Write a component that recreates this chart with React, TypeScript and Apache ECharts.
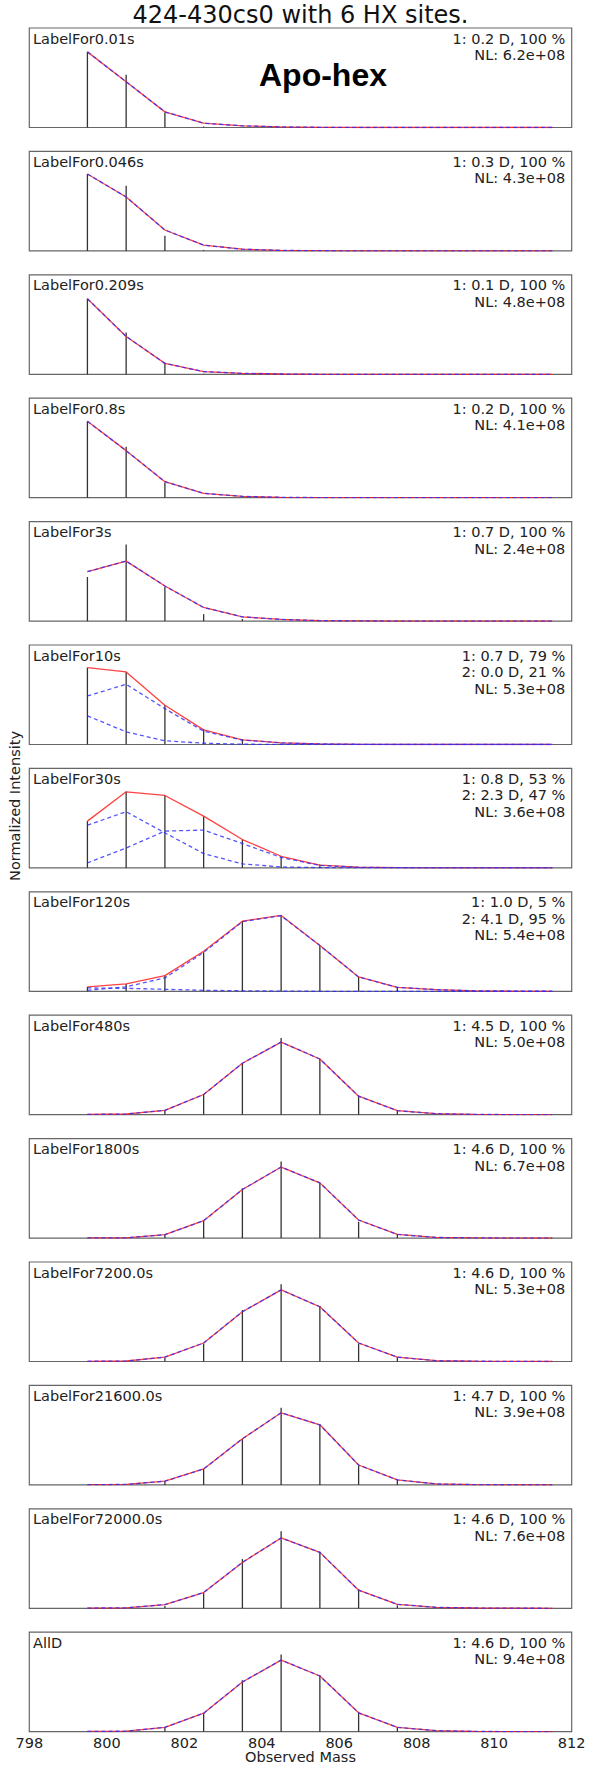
import React, { useEffect, useRef } from "react";
import * as echarts from "echarts";

// ---- data ----
const masses = [799.5, 800.5, 801.5, 802.5, 803.5, 804.5, 805.5, 806.5, 807.5, 808.5, 809.5, 810.5, 811.5];
const xTicks = [798, 800, 802, 804, 806, 808, 810, 812];

const panelLabels = [
  "LabelFor0.01s", "LabelFor0.046s", "LabelFor0.209s", "LabelFor0.8s", "LabelFor3s",
  "LabelFor10s", "LabelFor30s", "LabelFor120s", "LabelFor480s", "LabelFor1800s",
  "LabelFor7200.0s", "LabelFor21600.0s", "LabelFor72000.0s", "AllD",
];

const fitTexts = [
  ["1: 0.2 D, 100 %", "NL: 6.2e+08"],
  ["1: 0.3 D, 100 %", "NL: 4.3e+08"],
  ["1: 0.1 D, 100 %", "NL: 4.8e+08"],
  ["1: 0.2 D, 100 %", "NL: 4.1e+08"],
  ["1: 0.7 D, 100 %", "NL: 2.4e+08"],
  ["1: 0.7 D, 79 %", "2: 0.0 D, 21 %", "NL: 5.3e+08"],
  ["1: 0.8 D, 53 %", "2: 2.3 D, 47 %", "NL: 3.6e+08"],
  ["1: 1.0 D, 5 %", "2: 4.1 D, 95 %", "NL: 5.4e+08"],
  ["1: 4.5 D, 100 %", "NL: 5.0e+08"],
  ["1: 4.6 D, 100 %", "NL: 6.7e+08"],
  ["1: 4.6 D, 100 %", "NL: 5.3e+08"],
  ["1: 4.7 D, 100 %", "NL: 3.9e+08"],
  ["1: 4.6 D, 100 %", "NL: 7.6e+08"],
  ["1: 4.6 D, 100 %", "NL: 9.4e+08"],
];

// observed stick intensities (normalized to panel)
const observed = [
  [0.76, 0.53, 0.15, 0.01, 0, 0, 0, 0, 0, 0, 0, 0, 0],
  [0.773, 0.654, 0.153, 0.01, 0, 0, 0, 0, 0, 0, 0, 0, 0],
  [0.76, 0.42, 0.117, 0.005, 0, 0, 0, 0, 0, 0, 0, 0, 0],
  [0.768, 0.513, 0.154, 0.005, 0, 0, 0, 0, 0, 0, 0, 0, 0],
  [0.443, 0.77, 0.343, 0.07, 0.02, 0, 0, 0, 0, 0, 0, 0, 0],
  [0.773, 0.729, 0.395, 0.154, 0.054, 0.01, 0, 0, 0, 0, 0, 0, 0],
  [0.47, 0.765, 0.728, 0.52, 0.285, 0.117, 0.034, 0.005, 0, 0, 0, 0, 0],
  [0.044, 0.074, 0.158, 0.393, 0.705, 0.765, 0.46, 0.144, 0.04, 0.005, 0, 0, 0],
  [0, 0, 0.044, 0.203, 0.517, 0.77, 0.56, 0.186, 0.04, 0.005, 0, 0, 0],
  [0, 0, 0.03, 0.175, 0.5, 0.77, 0.555, 0.165, 0.04, 0, 0, 0, 0],
  [0, 0, 0.037, 0.18, 0.517, 0.777, 0.557, 0.18, 0.044, 0, 0, 0, 0],
  [0, 0, 0.037, 0.16, 0.463, 0.775, 0.607, 0.195, 0.05, 0, 0, 0, 0],
  [0, 0, 0.024, 0.158, 0.495, 0.774, 0.569, 0.192, 0.03, 0, 0, 0, 0],
  [0, 0, 0.044, 0.186, 0.517, 0.777, 0.568, 0.196, 0.044, 0, 0, 0, 0],
];

// total fitted envelope (red)
const fitTotal = [
  [0.76, 0.46, 0.157, 0.043, 0.017, 0.006, 0.002, 0, 0, 0, 0, 0, 0],
  [0.773, 0.542, 0.21, 0.058, 0.017, 0.005, 0.002, 0, 0, 0, 0, 0, 0],
  [0.76, 0.38, 0.11, 0.027, 0.01, 0.003, 0, 0, 0, 0, 0, 0, 0],
  [0.768, 0.473, 0.161, 0.044, 0.013, 0.004, 0.001, 0, 0, 0, 0, 0, 0],
  [0.497, 0.603, 0.353, 0.137, 0.043, 0.017, 0.005, 0.002, 0, 0, 0, 0, 0],
  [0.773, 0.729, 0.395, 0.147, 0.047, 0.017, 0.007, 0.002, 0, 0, 0, 0, 0],
  [0.47, 0.765, 0.728, 0.52, 0.285, 0.117, 0.027, 0.007, 0.002, 0, 0, 0, 0],
  [0.044, 0.074, 0.158, 0.403, 0.705, 0.762, 0.46, 0.144, 0.04, 0.017, 0.005, 0.002, 0],
  [0.003, 0.007, 0.044, 0.203, 0.517, 0.73, 0.56, 0.186, 0.04, 0.01, 0.003, 0.001, 0],
  [0.002, 0.003, 0.034, 0.175, 0.488, 0.714, 0.555, 0.182, 0.037, 0.007, 0.002, 0, 0],
  [0.002, 0.005, 0.044, 0.186, 0.5, 0.72, 0.55, 0.186, 0.044, 0.008, 0.003, 0.001, 0],
  [0.002, 0.005, 0.037, 0.16, 0.463, 0.725, 0.604, 0.2, 0.05, 0.01, 0.003, 0.001, 0],
  [0.002, 0.005, 0.037, 0.158, 0.461, 0.707, 0.562, 0.182, 0.04, 0.01, 0.003, 0.001, 0],
  [0.003, 0.005, 0.044, 0.186, 0.5, 0.72, 0.56, 0.19, 0.044, 0.01, 0.003, 0.001, 0],
];

// separate population components (blue dashed) for the two-population fits
const componentsP6 = [
  [0.488, 0.605, 0.36, 0.135, 0.044, 0.016, 0.006, 0.002, 0, 0, 0, 0, 0],
  [0.288, 0.127, 0.037, 0.013, 0.003, 0.001, 0, 0, 0, 0, 0, 0, 0],
];
const componentsP7 = [
  [0.43, 0.564, 0.352, 0.144, 0.04, 0.01, 0.002, 0, 0, 0, 0, 0, 0],
  [0.05, 0.2, 0.37, 0.38, 0.245, 0.105, 0.025, 0.006, 0.002, 0, 0, 0, 0],
];
const componentsP8 = [
  [0.034, 0.03, 0.02, 0.01, 0.005, 0.002, 0, 0, 0, 0, 0, 0, 0],
  [0.01, 0.045, 0.135, 0.39, 0.7, 0.76, 0.46, 0.144, 0.04, 0.017, 0.005, 0.002, 0],
];

export default function App() {
  const ref = useRef<HTMLDivElement>(null);

  useEffect(() => {
    if (!ref.current) return;
    const chart = echarts.init(ref.current, undefined, { renderer: "svg" });

    const FONT = "DejaVu Sans";
    const FS = 14.5;
    const left = 29.3;
    const plotW = 542.4;
    const top0 = 28;
    const step = 123.4;
    const plotH = 99.5;
    const n = panelLabels.length;
    const cx = left + plotW / 2;

    const grids: any[] = [];
    const xAxes: any[] = [];
    const yAxes: any[] = [];
    const series: any[] = [];
    const graphics: any[] = [];

    for (let i = 0; i < n; i++) {
      const top = top0 + i * step;
      const isLast = i === n - 1;
      grids.push({
        left,
        top,
        width: plotW,
        height: plotH,
        show: true,
        borderColor: "#666",
        borderWidth: 1.2,
        backgroundColor: "transparent",
      });
      xAxes.push({
        type: "value",
        gridIndex: i,
        min: 798,
        max: 812,
        interval: 2,
        axisLine: { show: false },
        axisTick: { show: false },
        splitLine: { show: false },
        axisLabel: isLast
          ? {
              show: true,
              fontSize: FS,
              fontFamily: FONT,
              color: "#222",
              margin: 4,
              customValues: xTicks,
            }
          : { show: false },
      });
      yAxes.push({
        type: "value",
        gridIndex: i,
        min: 0,
        max: 1,
        show: false,
        splitLine: { show: false },
      });

      const stickData = masses
        .map((m, k) => [m, observed[i][k]])
        .filter((d) => d[1] > 0);
      series.push({
        type: "custom",
        xAxisIndex: i,
        yAxisIndex: i,
        data: stickData,
        renderItem: (params: any, api: any) => {
          const x = api.value(0);
          const v = api.value(1);
          const p0 = api.coord([x, 0]);
          const p1 = api.coord([x, v]);
          return {
            type: "line",
            shape: { x1: p0[0], y1: p0[1], x2: p1[0], y2: p1[1] },
            style: { stroke: "#333", lineWidth: 1.3 },
          };
        },
        z: 1,
      });

      const total = masses.map((m, k) => [m, fitTotal[i][k]]);
      series.push({
        type: "line",
        xAxisIndex: i,
        yAxisIndex: i,
        data: total,
        symbol: "none",
        lineStyle: { color: "#ff2020", width: 1.3, opacity: 0.85 },
        z: 2,
      });

      let comps: number[][] = [fitTotal[i]];
      if (i === 5) comps = componentsP6;
      if (i === 6) comps = componentsP7;
      if (i === 7) comps = componentsP8;
      comps.forEach((c) => {
        series.push({
          type: "line",
          xAxisIndex: i,
          yAxisIndex: i,
          data: masses.map((m, k) => [m, c[k]]),
          symbol: "none",
          lineStyle: { color: "#2a2aff", width: 1.3, type: [4, 3], opacity: 0.8 },
          z: 3,
        });
      });

      graphics.push({
        type: "text",
        x: left + 3.7,
        y: top + 10.5,
        style: {
          text: panelLabels[i],
          font: `${FS}px "${FONT}"`,
          fill: "#222",
          textAlign: "left",
          align: "left",
          textVerticalAlign: "middle",
          verticalAlign: "middle",
        },
      });
      fitTexts[i].forEach((t, j) => {
        graphics.push({
          type: "text",
          x: left + plotW - 6.4,
          y: top + 10.5 + j * 16.5,
          style: {
            text: t,
            font: `${FS}px "${FONT}"`,
            fill: "#222",
            textAlign: "right",
            align: "right",
            textVerticalAlign: "middle",
            verticalAlign: "middle",
          },
        });
      });
    }

    graphics.push({
      type: "text",
      x: cx,
      y: 15,
      style: {
        text: "424-430cs0 with 6 HX sites.",
        font: `24px "${FONT}"`,
        fill: "#111",
        textAlign: "center",
        align: "center",
        textVerticalAlign: "middle",
        verticalAlign: "middle",
      },
    });
    graphics.push({
      type: "text",
      x: 323,
      y: 75,
      style: {
        text: "Apo-hex",
        font: `bold 32px "Liberation Sans"`,
        fill: "#000",
        textAlign: "center",
        align: "center",
        textVerticalAlign: "middle",
        verticalAlign: "middle",
      },
    });
    graphics.push({
      type: "text",
      x: 15,
      y: 806,
      rotation: Math.PI / 2,
      style: {
        text: "Normalized Intensity",
        font: `${FS}px "${FONT}"`,
        fill: "#222",
        textAlign: "center",
        align: "center",
        textVerticalAlign: "middle",
        verticalAlign: "middle",
      },
    });
    graphics.push({
      type: "text",
      x: cx,
      y: 1757,
      style: {
        text: "Observed Mass",
        font: `${FS}px "${FONT}"`,
        fill: "#222",
        textAlign: "center",
        align: "center",
        textVerticalAlign: "middle",
        verticalAlign: "middle",
      },
    });

    chart.setOption({
      animation: false,
      backgroundColor: "#fff",
      grid: grids,
      xAxis: xAxes,
      yAxis: yAxes,
      series,
      graphic: graphics,
    });

    return () => chart.dispose();
  }, []);

  return (
    <div
      ref={ref}
      style={{ position: "absolute", left: 0, top: 0, width: 589, height: 1766 }}
    />
  );
}
